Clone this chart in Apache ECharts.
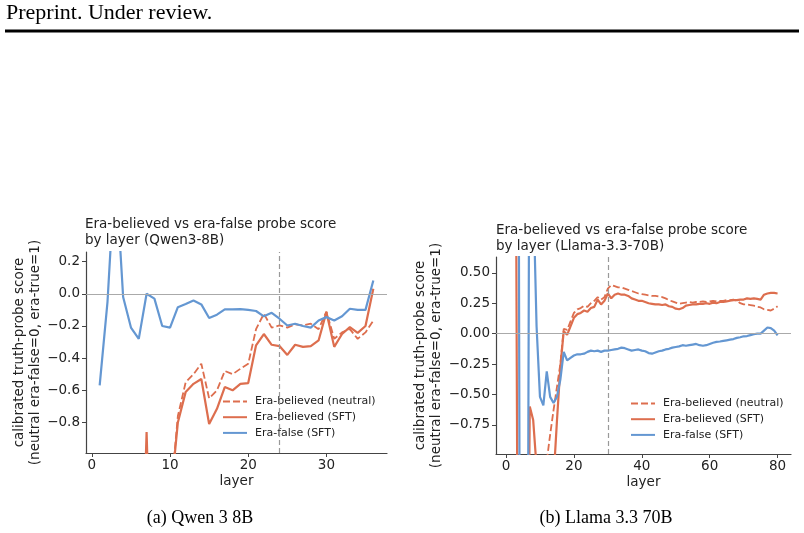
<!DOCTYPE html>
<html>
<head>
<meta charset="utf-8">
<script src="https://cdn.jsdelivr.net/npm/echarts@6.0.0/dist/echarts.min.js"></script>
<style>
html, body { margin: 0; padding: 0; background: #fff; }
#main { width: 804px; height: 533px; }
</style>
</head>
<body>
<div id="main"></div>
<script>
// Qwen3-8B, layers 1..36
var qwenLayers = [1,2,3,4,5,6,7,8,9,10,11,12,13,14,15,16,17,18,19,20,21,22,23,24,25,26,27,28,29,30,31,32,33,34,35,36];
var qwenNeutral = [-1.5,-1.5,-1.5,-1.5,-1.5,-1.5,-1.5,-1.5,-1.5,-1.3,-0.76,-0.55,-0.5,-0.435,-0.65,-0.6,-0.48,-0.5,-0.466,-0.435,
                   -0.22,-0.124,-0.21,-0.197,-0.21,-0.19,-0.197,-0.186,-0.22,-0.11,-0.28,-0.24,-0.22,-0.28,-0.24,-0.166];
var qwenSFT = [-2.5,-2.5,-2.5,-2.5,-2.5,-2.5,-0.86,-2.5,-2.5,-1.3,-0.8,-0.61,-0.56,-0.53,-0.81,-0.715,-0.58,-0.6,-0.56,-0.555,
               -0.32,-0.25,-0.317,-0.325,-0.38,-0.317,-0.33,-0.325,-0.29,-0.114,-0.33,-0.25,-0.207,-0.243,-0.2,0.031];
var qwenFalse = [-0.57,-0.05,0.8,-0.02,-0.21,-0.28,0.0,-0.03,-0.2,-0.21,-0.083,-0.064,-0.042,-0.066,-0.15,-0.13,-0.097,-0.097,-0.095,-0.1,
                 -0.107,-0.14,-0.118,-0.155,-0.197,-0.186,-0.2,-0.21,-0.166,-0.145,-0.166,-0.14,-0.093,-0.1,-0.1,0.083];

// Llama-3.3-70B, layers 1..80
var llamaLayers = [1,2,3,4,5,6,7,8,9,10,11,12,13,14,15,16,17,18,19,20,21,22,23,24,25,26,27,28,29,30,31,32,33,34,35,36,37,38,39,40,
                   41,42,43,44,45,46,47,48,49,50,51,52,53,54,55,56,57,58,59,60,61,62,63,64,65,66,67,68,69,70,71,72,73,74,75,76,77,78,79,80];
var llamaNeutral = [-2,-2,-2,-2,-2,-2,-2,-2,-2,-2,-2,-1.05,-0.83,-0.63,-0.44,-0.25,0.04,0.03,0.1,0.17,
                    0.2,0.21,0.23,0.22,0.25,0.27,0.3,0.28,0.3,0.37,0.4,0.39,0.38,0.38,0.37,0.36,0.35,0.34,0.33,0.325,
                    0.32,0.315,0.31,0.31,0.305,0.3,0.29,0.275,0.265,0.255,0.245,0.25,0.255,0.26,0.255,0.26,0.26,0.265,0.26,0.265,
                    0.27,0.265,0.27,0.27,0.275,0.275,0.28,0.27,0.25,0.24,0.24,0.235,0.23,0.22,0.215,0.2,0.195,0.19,0.205,0.225];
var llamaSFT = [1.5,2,0.9,-6,-6,-4,-0.6,-0.71,-1.1,-2,-2,-2,-2,-1.2,-0.72,-0.28,0.02,-0.01,0.06,0.13,
                0.16,0.17,0.19,0.18,0.21,0.22,0.28,0.24,0.27,0.33,0.29,0.32,0.33,0.32,0.32,0.31,0.29,0.28,0.27,0.27,
                0.26,0.25,0.245,0.24,0.24,0.235,0.24,0.225,0.22,0.205,0.2,0.21,0.23,0.235,0.24,0.24,0.245,0.245,0.25,0.245,
                0.255,0.25,0.26,0.26,0.265,0.27,0.275,0.275,0.28,0.28,0.29,0.285,0.29,0.285,0.28,0.32,0.33,0.335,0.335,0.33];
var llamaFalse = [4,5,10,-1.5,-4,-6,3,1.2,0.06,-0.52,-0.59,-0.31,-0.52,-0.57,-0.52,-0.38,-0.15,-0.22,-0.2,-0.18,
                  -0.17,-0.17,-0.165,-0.15,-0.14,-0.145,-0.14,-0.15,-0.14,-0.14,-0.135,-0.13,-0.125,-0.115,-0.12,-0.13,-0.14,-0.135,-0.13,-0.14,
                  -0.145,-0.16,-0.165,-0.155,-0.145,-0.14,-0.13,-0.125,-0.115,-0.11,-0.105,-0.095,-0.1,-0.095,-0.09,-0.085,-0.095,-0.1,-0.095,-0.085,
                  -0.075,-0.068,-0.065,-0.06,-0.055,-0.05,-0.045,-0.035,-0.03,-0.022,-0.02,-0.012,-0.005,0.0,0.0,0.025,0.05,0.045,0.025,-0.015];

var qwenXTicks = [0, 10, 20, 30];
var qwenYTicks = [-0.8, -0.6, -0.4, -0.2, 0, 0.2];
var llamaXTicks = [0, 20, 40, 60, 80];
var llamaYTicks = [-0.75, -0.5, -0.25, 0, 0.25, 0.5];

var names = ['Era-believed (neutral)', 'Era-believed (SFT)', 'Era-false (SFT)'];
var ORANGE = '#dd6e4e', BLUE = '#6497d2', FONT = 'DejaVu Sans', TXT = '#222';

function pairs(xs, ys) {
    return xs.map(function (x, i) { return [x, ys[i]]; });
}
function fmt(d) {
    return function (v) { return (v < 0 ? '\u2212' : '') + Math.abs(v).toFixed(d); };
}

function xAxis(idx, min, max, ticks) {
    return {
        type: 'value', gridIndex: idx, min: min, max: max,
        name: 'layer', nameLocation: 'middle', nameGap: 21,
        nameTextStyle: { fontFamily: FONT, fontSize: 13.5, color: TXT },
        axisLine: { show: true, onZero: false, lineStyle: { color: '#444', width: 1.2 } },
        axisTick: { show: true, length: 4, customValues: ticks, lineStyle: { color: '#444' } },
        axisLabel: { customValues: ticks, fontFamily: FONT, fontSize: 13.5, color: TXT, margin: 5 },
        splitLine: { show: false }
    };
}
function yAxis(idx, min, max, ticks, dec, gap) {
    return {
        type: 'value', gridIndex: idx, min: min, max: max,
        name: 'calibrated truth-probe score\n(neutral era-false=0, era-true=1)',
        nameLocation: 'middle', nameGap: gap, nameRotate: 90,
        nameTextStyle: { fontFamily: FONT, fontSize: 13.5, color: TXT, lineHeight: 16 },
        axisLine: { show: true, onZero: false, lineStyle: { color: '#444', width: 1.2 } },
        axisTick: { show: true, length: 4, customValues: ticks, lineStyle: { color: '#444' } },
        axisLabel: { customValues: ticks, formatter: fmt(dec), fontFamily: FONT, fontSize: 13.5, color: TXT, margin: 6 },
        splitLine: { show: false }
    };
}
function lines(idx, xs, neutral, sft, fals, cut) {
    return [
        {
            type: 'line', xAxisIndex: idx, yAxisIndex: idx, data: [], z: 1, silent: true,
            markLine: {
                silent: true, symbol: 'none', label: { show: false }, animation: false,
                data: [
                    { yAxis: 0, lineStyle: { color: '#aaa', width: 1, type: 'solid' } },
                    { xAxis: cut, lineStyle: { color: '#999', width: 1.2, type: [5, 3] } }
                ]
            }
        },
        { name: names[0], type: 'line', xAxisIndex: idx, yAxisIndex: idx, data: pairs(xs, neutral), symbol: 'none', z: 2,
          color: ORANGE, lineStyle: { color: ORANGE, width: 1.8, type: [7, 3] } },
        { name: names[1], type: 'line', xAxisIndex: idx, yAxisIndex: idx, data: pairs(xs, sft), symbol: 'none', z: 2,
          color: ORANGE, lineStyle: { color: ORANGE, width: 2.2 } },
        { name: names[2], type: 'line', xAxisIndex: idx, yAxisIndex: idx, data: pairs(xs, fals), symbol: 'none', z: 2,
          color: BLUE, lineStyle: { color: BLUE, width: 2.2 } }
    ];
}
function legend(left, top) {
    return {
        data: names, orient: 'vertical', left: left, top: top, padding: 0,
        itemWidth: 24, itemHeight: 12, itemGap: 4.7,
        itemStyle: { opacity: 0 },
        textStyle: { fontFamily: FONT, fontSize: 11, color: TXT, padding: [0, 0, 0, 3] }
    };
}

var chart = echarts.init(document.getElementById('main'));
chart.setOption({
    backgroundColor: '#fff',
    animation: false,
    title: [
        { text: 'Era-believed vs era-false probe score\nby layer (Qwen3-8B)', left: 85, top: 217, padding: 0,
          textStyle: { fontFamily: FONT, fontSize: 13.5, fontWeight: 'normal', color: TXT, lineHeight: 15.5 } },
        { text: 'Era-believed vs era-false probe score\nby layer (Llama-3.3-70B)', left: 496, top: 223, padding: 0,
          textStyle: { fontFamily: FONT, fontSize: 13.5, fontWeight: 'normal', color: TXT, lineHeight: 15.5 } }
    ],
    legend: [legend(222, 396), legend(630, 398)],
    grid: [
        { left: 86, top: 252, width: 301, height: 201, outerBoundsMode: 'none' },
        { left: 496, top: 257, width: 295, height: 197, outerBoundsMode: 'none' }
    ],
    xAxis: [xAxis(0, -0.75, 37.75, qwenXTicks), xAxis(1, -2.95, 83.95, llamaXTicks)],
    yAxis: [yAxis(0, -0.99, 0.26, qwenYTicks, 1, 40), yAxis(1, -0.99, 0.63, llamaYTicks, 2, 49)],
    series: lines(0, qwenLayers, qwenNeutral, qwenSFT, qwenFalse, 24)
        .concat(lines(1, llamaLayers, llamaNeutral, llamaSFT, llamaFalse, 30)),
    graphic: [
        { type: 'text', left: 6, top: 2, style: { text: 'Preprint. Under review.', fontFamily: 'Liberation Serif', fontSize: 22, fill: '#000' } },
        { type: 'rect', shape: { x: 5, y: 29.5, width: 794, height: 3 }, style: { fill: '#000' } },
        { type: 'text', x: 200, y: 518, style: { text: '(a) Qwen 3 8B', fontFamily: 'Liberation Serif', fontSize: 18, fill: '#000', align: 'center', verticalAlign: 'middle' } },
        { type: 'text', x: 606, y: 518, style: { text: '(b) Llama 3.3 70B', fontFamily: 'Liberation Serif', fontSize: 18, fill: '#000', align: 'center', verticalAlign: 'middle' } }
    ]
});
</script>
</body>
</html>
